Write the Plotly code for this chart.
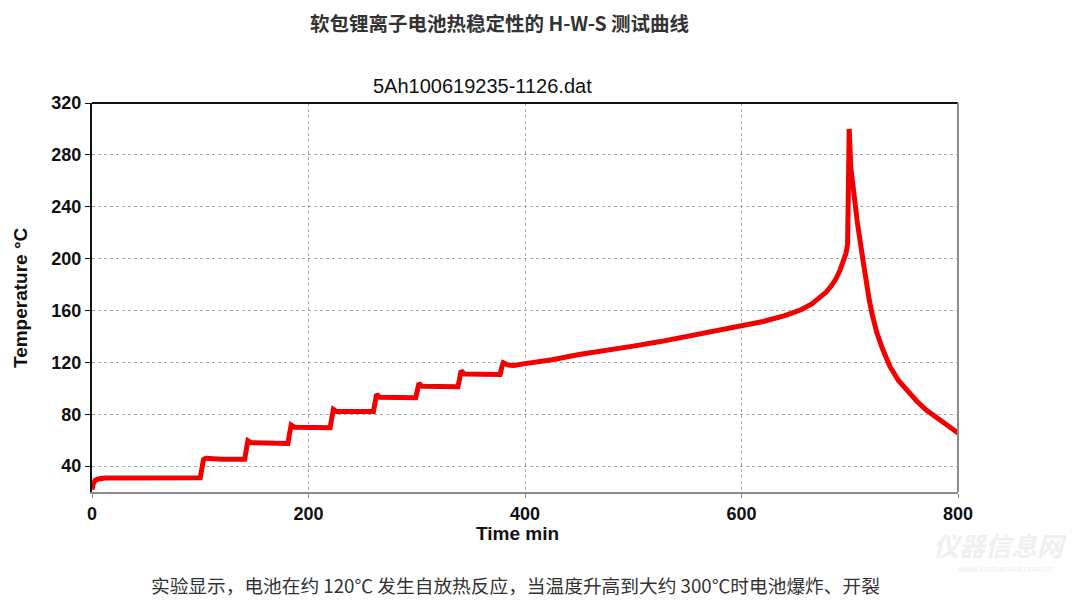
import plotly.graph_objects as go

# H-W-S 测试曲线数据
time_min = [0, 1, 3, 6, 12, 50, 100, 101.5, 103, 105, 120, 141,
            142.5, 144, 147, 160, 181, 182.5, 184, 187, 200, 220,
            221.5, 223, 226, 240, 260, 261.5, 263, 266, 280, 299,
            300.5, 302, 305, 320, 338, 339.5, 341, 344, 360, 377,
            378.5, 380, 384, 390, 400, 425, 450, 475, 500, 525,
            550, 575, 600, 620, 640, 655, 665, 672, 678, 683,
            687, 691, 694, 696.5, 698, 699.5, 701, 704, 707, 712,
            715, 718, 721, 725, 730, 737, 745, 753, 762, 771,
            785, 800]
temp_c = [22, 26, 29, 30, 30.8, 30.8, 31, 38, 45, 46, 45.3, 45.3,
          53, 59.5, 58, 57.5, 57.5, 65, 71.6, 70, 69.6, 69.6,
          77, 83.7, 82, 82, 82, 89, 95.3, 93, 92.7, 92.7,
          98, 103.8, 101.5, 101.2, 101.2, 107, 113.5, 111, 110.7, 110.7,
          116, 119.7, 118, 117.5, 119, 122, 126, 129, 132.5, 136,
          140, 144, 148, 151.5, 156, 160.5, 165, 169.5, 174, 179,
          184, 191, 197, 204, 211, 300, 270, 248, 228, 200,
          183, 168, 156, 143, 131, 117, 106, 98, 90, 83,
          74, 65.5]

x_ticks = [0, 200, 400, 600, 800]
y_ticks = [40, 80, 120, 160, 200, 240, 280, 320]

title_text = "<b>软包锂离子电池热稳定性的 H-W-S 测试曲线</b>"
subtitle_text = "5Ah100619235-1126.dat"
caption_text = "实验显示，电池在约 120℃ 发生自放热反应，当温度升高到大约 300℃时电池爆炸、开裂"

cjk = "Noto Sans CJK SC"
latin = "Liberation Sans, Arial"
tick_font = dict(family=latin, size=18, color="#111", weight="bold")

fig = go.Figure()
fig.add_trace(go.Scatter(x=time_min, y=temp_c, mode="lines",
                         line=dict(color="#f20000", width=5),
                         showlegend=False))

# 页面有 8px 的 body 边距，所以尺寸和边距都减去 8
fig.update_layout(
    width=1072, height=599,
    margin=dict(l=84, r=122, t=95, b=115),
    paper_bgcolor="white", plot_bgcolor="white",
    xaxis=dict(range=[0, 800], tickvals=x_ticks, showgrid=True,
               gridcolor="#a8a8a8", griddash="3px,3px", gridwidth=1,
               showline=True, linecolor="#8c8c8c", linewidth=2,
               ticks="outside", ticklen=4, tickcolor="#8c8c8c",
               tickfont=tick_font, zeroline=False),
    yaxis=dict(range=[20, 320], tickvals=y_ticks, showgrid=True,
               gridcolor="#a8a8a8", griddash="3px,3px", gridwidth=1,
               showline=True, linecolor="#111", linewidth=2,
               ticks="outside", ticklen=5, tickcolor="#111",
               tickfont=tick_font, zeroline=False),
)

# 上边框黑色，右边框灰色
fig.add_shape(type="line", xref="paper", yref="paper", x0=0, x1=1, y0=1, y1=1,
              line=dict(color="#111", width=2))
fig.add_shape(type="line", xref="paper", yref="paper", x0=1, x1=1, y0=0, y1=1,
              line=dict(color="#8c8c8c", width=2))


def note(text, x, y, font, angle=0):
    fig.add_annotation(text=text, xref="paper", yref="paper", x=x, y=y,
                       xanchor="center", yanchor="middle", textangle=angle,
                       showarrow=False, font=font)


note(title_text, 0.4711, 1.2057, dict(family=cjk, size=19.5, color="#333"))
note(subtitle_text, 0.4515, 1.0437, dict(family=latin, size=20, color="#111"))
note("<b>Time min</b>", 0.4919, -0.1054, dict(family=latin, size=19, color="#111"))
note("<b>Temperature °C</b>", -0.0831, 0.4987, dict(family=latin, size=19, color="#111"), angle=-90)
note(caption_text, 0.4896, -0.239, dict(family=cjk, size=18.7, color="#333"))

# 水印
note("<b><i>仪器信息网</i></b>", 1.0485, -0.136, dict(family=cjk, size=26, color="#efefef"))
note("www.instrument.com.cn", 1.054, -0.197, dict(family=latin, size=9, color="#eeeeee"))

fig.write_html("out.html")
